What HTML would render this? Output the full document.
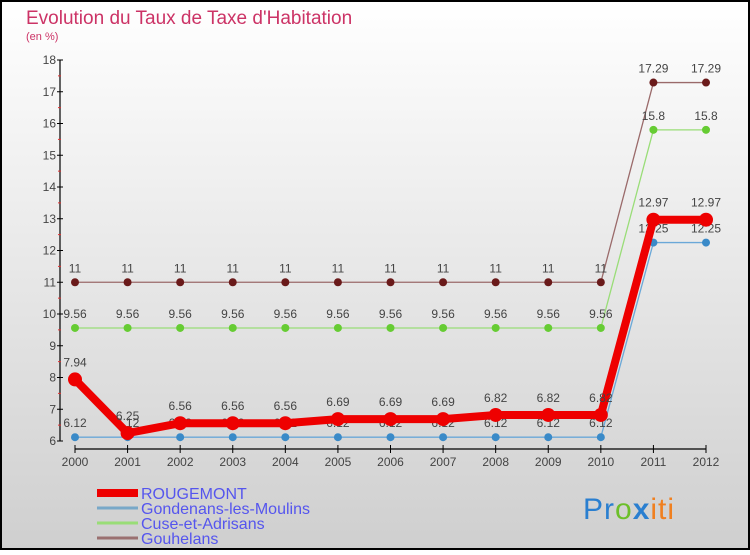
<!DOCTYPE html>
<html><head><meta charset="utf-8">
<style>
html,body{margin:0;padding:0;}
body{width:750px;height:550px;overflow:hidden;font-family:"Liberation Sans",sans-serif;}
</style></head>
<body>
<svg id="chart" width="750" height="550" xmlns="http://www.w3.org/2000/svg" font-family="Liberation Sans, sans-serif">
<defs>
<linearGradient id="bg" x1="0" y1="0" x2="0" y2="1">
<stop offset="0" stop-color="#ffffff"/><stop offset="1" stop-color="#cfcfcf"/>
</linearGradient>
</defs>
<rect x="1" y="1" width="748" height="548" fill="url(#bg)" stroke="#000" stroke-width="2"/>
<text x="26" y="24" font-size="19" fill="#cc3366">Evolution du Taux de Taxe d'Habitation</text>
<text x="26" y="40" font-size="11" fill="#cc3366">(en %)</text>
<g id="axes"></g>
<g id="series"></g>
<g id="legend"></g>
<text x="583" y="519" font-size="30" letter-spacing="1"><tspan fill="#2a7fd0">Pr</tspan><tspan fill="#6cbf2a">o</tspan><tspan fill="#2a7fd0" font-weight="bold">x</tspan><tspan fill="#f08020">iti</tspan></text>
</svg>
<script>
const years = [2000,2001,2002,2003,2004,2005,2006,2007,2008,2009,2010,2011,2012];
const yTicks = [6,7,8,9,10,11,12,13,14,15,16,17,18];
const rougemont = [7.94,6.25,6.56,6.56,6.56,6.69,6.69,6.69,6.82,6.82,6.82,12.97,12.97];
const gondenans = [6.12,6.12,6.12,6.12,6.12,6.12,6.12,6.12,6.12,6.12,6.12,12.25,12.25];
const cuse = [9.56,9.56,9.56,9.56,9.56,9.56,9.56,9.56,9.56,9.56,9.56,15.8,15.8];
const gouhelans = [11,11,11,11,11,11,11,11,11,11,11,17.29,17.29];
const seriesNames = ["ROUGEMONT","Gondenans-les-Moulins","Cuse-et-Adrisans","Gouhelans"];

const NS="http://www.w3.org/2000/svg";
const X=i=>75+i*(706-75)/(years.length-1);
const Y=v=>441-(v-6)*(441-60)/12;
function mk(tag,attrs,parent){const e=document.createElementNS(NS,tag);for(const k in attrs)e.setAttribute(k,attrs[k]);parent.appendChild(e);return e;}
const axes=document.getElementById('axes');
let e=mk('line',{x1:60,y1:60,x2:60,y2:441,stroke:'#000','stroke-width':1.2},axes);


e=mk('line',{x1:75,y1:449,x2:706,y2:449,stroke:'#000','stroke-width':1.2},axes);


yTicks.forEach(v=>{
  mk('line',{x1:57,y1:Y(v),x2:63,y2:Y(v),stroke:'#000'},axes);
  if(v<18){mk('line',{x1:58,y1:Y(v+0.5),x2:61,y2:Y(v+0.5),stroke:'#e03030'},axes);}
  const t=mk('text',{x:56,y:Y(v)+4,'font-size':12,'text-anchor':'end',fill:'#444'},axes);
  t.textContent=v;
  
  
});
years.forEach((yr,i)=>{
  mk('line',{x1:X(i),y1:445,x2:X(i),y2:453,stroke:'#000'},axes);
  const t=mk('text',{x:X(i),y:466,'font-size':12,'text-anchor':'middle',fill:'#444'},axes);
  t.textContent=yr;
  
  
});
const sg=document.getElementById('series');
function drawSeries(vals,color,lineW,r,dot,name){
  const g=mk('g',{},sg);
  
  
  mk('polyline',{points:vals.map((v,i)=>X(i)+','+Y(v)).join(' '),fill:'none',stroke:color,'stroke-width':lineW,'stroke-linejoin':'round'},g);
  vals.forEach((v,i)=>{
    const c=mk('circle',{cx:X(i),cy:Y(v),r:r,fill:dot},g);
    
    
    const t=mk('text',{x:X(i),y:Y(v)-(r+6),'font-size':12,'text-anchor':'middle',fill:'#444'},g);
    t.textContent=v;
    
    
  });
}
drawSeries(gouhelans,'#9a6a6a',1.3,4,'#6a1a1a','gouhelans');
drawSeries(cuse,'#99dd77',1.3,4,'#66cc33','cuse');
drawSeries(gondenans,'#6aa8d8',1.3,4,'#3a8ac8','gondenans');
drawSeries(rougemont,'#ee0000',8,7,'#ee0000','rougemont');
const lg=document.getElementById('legend');
const lcol=['#ee0000','#78a8c8','#99dd77','#9a7070'];
const lw=[8,3,3,3];
seriesNames.forEach((n,i)=>{
  const y=493+i*15;
  const g=mk('g',{},lg);
  
  
  mk('line',{x1:97,y1:y,x2:138,y2:y,stroke:lcol[i],'stroke-width':lw[i]},g);
  const t=mk('text',{x:141,y:y+6,'font-size':16,fill:'#5555ee'},g);
  t.textContent=n;
});
</script>
</body></html>
